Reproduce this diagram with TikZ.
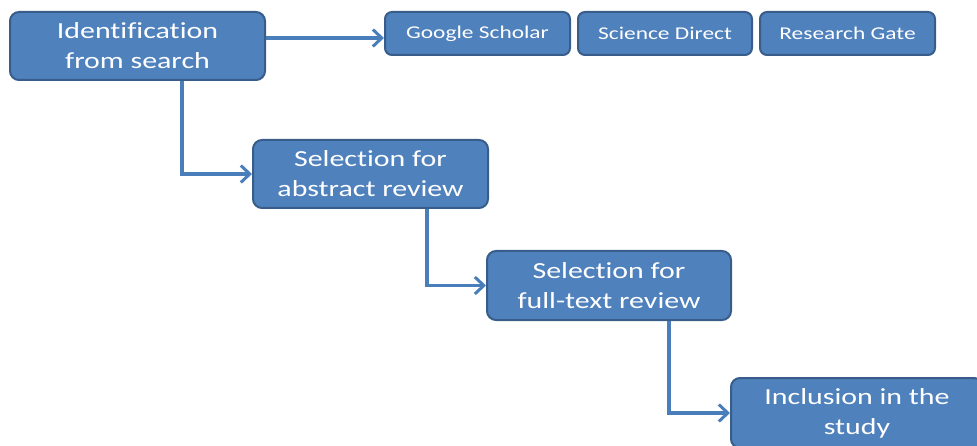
\documentclass[tikz,border=0pt]{standalone}
\usepackage{fontspec}
\setmainfont{Carlito}[FakeStretch=1.3,Ligatures=NoCommon]
\usetikzlibrary{arrows.meta}
\definecolor{boxfill}{HTML}{4F81BD}
\definecolor{boxline}{HTML}{385D8A}
\definecolor{conn}{HTML}{4A7EBB}
\begin{document}
\begin{tikzpicture}[x=1pt,y=-1pt,
  bigbox/.style={draw=boxline,line width=2pt,fill=boxfill,rounded corners=9pt,text=white,align=center,inner sep=0pt,font=\fontsize{23}{30}\selectfont,minimum height=68pt},
  smallbox/.style={draw=boxline,line width=2pt,fill=boxfill,rounded corners=7pt,text=white,align=center,inner sep=0pt,font=\fontsize{18}{20}\selectfont,minimum height=43pt},
  conn/.style={draw=conn,line width=3.2pt,-{Straight Barb[length=9pt,width=17pt,line width=3pt]}}]
\useasboundingbox (0,0) rectangle (977,446);
\node[bigbox,minimum width=255pt] (ident) at (137.5,46) {Identification\\from search};
\node[smallbox,minimum width=185pt] (gs) at (477.5,33.5) {Google Scholar};
\node[smallbox,minimum width=174pt] (sd) at (665,33.5) {Science Direct};
\node[smallbox,minimum width=175pt] (rg) at (847.5,33.5) {Research Gate};
\node[bigbox,minimum width=235pt] (abs) at (370.5,174) {Selection for\\abstract review};
\node[bigbox,minimum width=244pt,minimum height=69pt] (full) at (609,285.5) {Selection for\\full-text review};
\node[bigbox,minimum width=252pt,minimum height=70pt] (incl) at (857,413) {Inclusion in the\\study};
\draw[conn] (ident.east |- 0,38) -- (gs.west |- 0,38);
\draw[conn] (ident.south -| 182,0) |- (abs.west);
\draw[conn] (abs.south -| 427,0) |- (full.west);
\draw[conn] (full.south -| 669,0) |- (incl.west);
\end{tikzpicture}
\end{document}
